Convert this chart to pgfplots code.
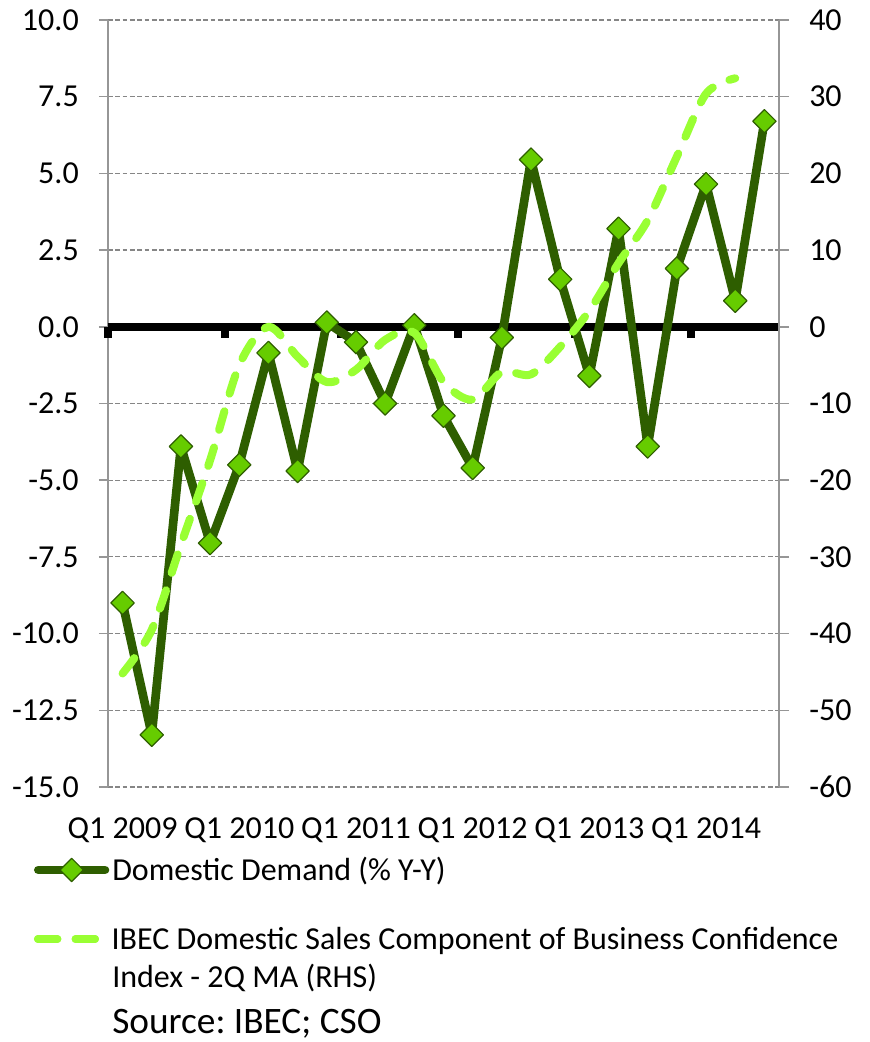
\documentclass[border=0pt]{standalone}
\usepackage{pgfplots}
\usepackage{pgfplotstable}
\pgfplotsset{compat=1.18}
\usepackage{fontspec}
\setmainfont{Carlito}
\frenchspacing
\definecolor{dgreen}{RGB}{46,94,0}
\definecolor{mgreen}{RGB}{102,204,0}
\definecolor{lgreen}{RGB}{153,255,51}
\definecolor{gridgray}{RGB}{134,134,134}
\definecolor{axgray}{RGB}{150,150,150}
\pgfplotstableread{
x y
0 -9.0
1 -13.3
2 -3.9
3 -7.05
4 -4.5
5 -0.85
6 -4.7
7 0.14
8 -0.5
9 -2.5
10 0.05
11 -2.9
12 -4.6
13 -0.35
14 5.45
15 1.55
16 -1.6
17 3.2
18 -3.9
19 1.9
20 4.65
21 0.85
22 6.7
}\dd
\pgfplotstableread{
x y
0 -45.2
1 -39.5
2 -28.4
3 -17.4
4 -5.0
5 0.0
6 -3.9
7 -7.2
8 -5.6
9 -1.7
10 -0.8
11 -7.2
12 -9.5
13 -5.9
14 -6.2
15 -2.6
16 2.1
17 8.3
18 13.9
19 22.2
20 30.4
21 32.4
}\ibec
\newcommand{\tfont}{\fontsize{24}{28}\selectfont}
\pgfplotsset{
  ddleg/.style={legend image code/.code={\draw[##1, mark repeat=2, mark phase=2] plot coordinates {(0pt,0pt) (25pt,0pt) (50pt,0pt)};}},
  ibleg/.style={legend image code/.code={\path (0pt,0pt) -- (50pt,0pt); \draw[##1] (0pt,0pt) -- (45pt,0pt);}},
}
\begin{document}
\begin{tikzpicture}
\useasboundingbox (-81pt,-191.25pt) rectangle (571.5pt,590.25pt);
\pgfplotsset{base/.style={scale only axis, width=503.25pt, height=575.25pt, xmin=-0.5, xmax=22.5}}
% grid + left axis + x labels
\begin{axis}[base, ymin=-15, ymax=10,
  axis y line*=left, axis x line*=bottom,
  x axis line style={draw=none},
  y axis line style={axgray, line width=1.1pt},
  ytick={-15,-12.5,...,10},
  yticklabels={-15.0,-12.5,-10.0,-7.5,-5.0,-2.5,0.0,2.5,5.0,7.5,10.0},
  ymajorgrids, major grid style={gridgray, line width=0.9pt, dash pattern=on 3.5pt off 2pt},
  ytick align=outside, ytick style={axgray, line width=1.1pt}, major tick length=6.75pt,
  xtick={0,4,...,20},
  xticklabels={Q1 2009,Q1 2010,Q1 2011,Q1 2012,Q1 2013,Q1 2014},
  xtick style={draw=none},
  tick label style={font=\tfont},
  yticklabel style={anchor=east, inner sep=0pt, xshift=-15pt},
  xticklabel style={anchor=north, inner sep=0pt, yshift=-23pt},
]
\addplot[draw=none] coordinates {(0,0)};
\end{axis}
% zero line
\begin{axis}[base, ymin=-15, ymax=10, axis x line=middle, axis y line=none,
  axis line style={-, black, line width=6pt},
  xtick={-0.5,3.5,...,19.5}, xticklabel style={opacity=0, text opacity=0},
  xtick align=outside, major tick length=8.25pt, xtick style={black, line width=6pt},
]
\addplot[draw=none] coordinates {(0,0)};
\end{axis}
% domestic demand
\begin{axis}[base, ymin=-15, ymax=10, hide axis,
  legend style={draw=none, fill=none, inner sep=0pt, outer sep=0pt, nodes={inner sep=0pt},
    column sep=2.25pt, font=\tfont, at={(-0.1103,-0.1082)}, anchor=west},
  legend cell align=left]
\addplot[dgreen, line width=6.5pt, line join=round, line cap=round,
  mark=square*, mark size=6.2pt,
  mark options={rotate=45, fill=mgreen, draw=dgreen, line width=0.9pt, solid},
  ddleg] table {\dd};
\addlegendentry{Domestic Demand (\% Y-Y)}
\end{axis}
% IBEC right axis
\begin{axis}[base, ymin=-60, ymax=40,
  axis y line*=right, axis x line=none,
  y axis line style={axgray, line width=1.1pt},
  ytick={-60,-50,...,40},
  yticklabels={-60,-50,-40,-30,-20,-10,0,10,20,30,40},
  ytick align=outside, ytick style={axgray, line width=1.1pt}, major tick length=7.5pt,
  tick label style={font=\tfont},
  yticklabel style={anchor=west, inner sep=0pt, xshift=15pt},
  legend style={draw=none, fill=none, inner sep=0pt, outer sep=0pt, nodes={inner sep=0pt},
    column sep=2.25pt, font=\tfont, at={(-0.1103,-0.1982)}, anchor=west},
  legend cell align=left]
\addplot[lgreen, line width=6pt, line cap=round, line join=round, smooth,
  dash pattern=on 14.5pt off 13.75pt, ibleg] table {\ibec};
\addlegendentry{IBEC Domestic Sales Component of Business Confidence}
\end{axis}
\node[anchor=base west, inner sep=0pt, font=\tfont] at (3pt,-150pt) {Index - 2Q MA (RHS)};
\node[anchor=base west, inner sep=0pt, font=\fontsize{28}{32}\selectfont] at (3pt,-184.5pt) {Source: IBEC; CSO};
\end{tikzpicture}
\end{document}
